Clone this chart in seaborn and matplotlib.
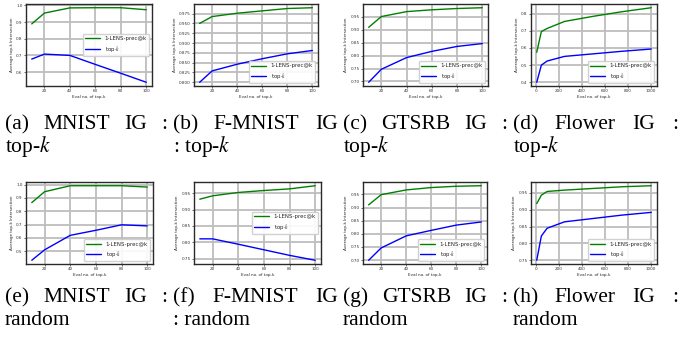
import matplotlib
matplotlib.use("Agg")
import matplotlib.pyplot as plt
from matplotlib.ticker import MultipleLocator
import pandas as pd
import seaborn as sns

# Evaluated top-k sizes
k_small = [10, 20, 40, 60, 80, 100]
k_large = [10, 50, 100, 250, 500, 750, 1000]

# Average top-k intersection, IG explanations vs. top-k attack
mnist_topk_lens = [0.889, 0.954, 0.985, 0.986, 0.986, 0.974]
mnist_topk_base = [0.678, 0.708, 0.700, 0.646, 0.593, 0.539]
fmnist_topk_lens = [0.950, 0.9675, 0.976, 0.982, 0.988, 0.990]
fmnist_topk_base = [0.800, 0.829, 0.846, 0.860, 0.8725, 0.881]
gtsrb_topk_lens = [0.9085, 0.950, 0.969, 0.976, 0.981, 0.984]
gtsrb_topk_base = [0.697, 0.747, 0.792, 0.816, 0.835, 0.846]
flower_topk_lens = [0.575, 0.696, 0.714, 0.755, 0.785, 0.812, 0.835]
flower_topk_base = [0.400, 0.500, 0.524, 0.551, 0.566, 0.581, 0.594]

# Average top-k intersection, IG explanations vs. random attack
mnist_random_lens = [0.865, 0.947, 0.992, 0.992, 0.992, 0.982]
mnist_random_base = [0.4315, 0.510, 0.619, 0.657, 0.698, 0.690]
fmnist_random_lens = [0.9315, 0.9418, 0.952, 0.958, 0.963, 0.9726]
fmnist_random_base = [0.8104, 0.8104, 0.794, 0.777, 0.760, 0.745]
gtsrb_random_lens = [0.910, 0.949, 0.967, 0.976, 0.981, 0.983]
gtsrb_random_base = [0.699, 0.746, 0.792, 0.813, 0.833, 0.845]
flower_random_lens = [0.918, 0.943, 0.954, 0.958, 0.963, 0.968, 0.971]
flower_random_base = [0.750, 0.822, 0.845, 0.864, 0.874, 0.884, 0.892]

series_names = ["1-LENS-prec@k", "top-$k$"]
x_label = "Eval no. of top-k"
y_label = "Average top-k Intersection"

captions = [
    (["(a)", "MNIST", "IG", ":"], "top-$k$"),
    (["(b)", "F-MNIST", "IG"], ": top-$k$"),
    (["(c)", "GTSRB", "IG", ":"], "top-$k$"),
    (["(d)", "Flower", "IG", ":"], "top-$k$"),
    (["(e)", "MNIST", "IG", ":"], "random"),
    (["(f)", "F-MNIST", "IG"], ": random"),
    (["(g)", "GTSRB", "IG", ":"], "random"),
    (["(h)", "Flower", "IG", ":"], "random"),
]

panels = [
    (k_small, mnist_topk_lens, mnist_topk_base),
    (k_small, fmnist_topk_lens, fmnist_topk_base),
    (k_small, gtsrb_topk_lens, gtsrb_topk_base),
    (k_large, flower_topk_lens, flower_topk_base),
    (k_small, mnist_random_lens, mnist_random_base),
    (k_small, fmnist_random_lens, fmnist_random_base),
    (k_small, gtsrb_random_lens, gtsrb_random_base),
    (k_large, flower_random_lens, flower_random_base),
]

W, H = 684, 347

# axes boxes in pixels: (left, top, right, bottom)
boxes = [
    (26, 4, 152, 86), (194, 4, 318, 86), (363, 4, 488, 86), (531, 4, 657, 86),
    (26, 182, 153, 264), (194, 182, 321, 264), (363, 182, 487, 264), (531, 182, 657, 264),
]
y_steps = [0.1, 0.025, 0.05, 0.1, 0.1, 0.05, 0.05, 0.05]
legend_locs = ["center right", "lower right", "lower right", "lower right",
               "lower right", "center right", "lower right", "lower right"]

sns.set_theme(style="whitegrid")
plt.rcParams.update({
    "font.family": ["DejaVu Sans"],
    "mathtext.fontset": "stix",
    "axes.facecolor": "white",
    "axes.edgecolor": "#2a2a2a",
    "axes.linewidth": 1.0,
    "grid.color": "#bdbdbd",
    "grid.linewidth": 1.3,
    "xtick.bottom": True,
    "ytick.left": True,
    "xtick.major.size": 1.5,
    "ytick.major.size": 1.5,
    "xtick.major.width": 0.5,
    "ytick.major.width": 0.5,
    "xtick.major.pad": 1.0,
    "ytick.major.pad": 1.0,
    "xtick.color": "#333333",
    "ytick.color": "#333333",
})

fig = plt.figure(figsize=(W / 100, H / 100), dpi=100)
palette = {series_names[0]: "green", series_names[1]: "blue"}

for i, ((ks, lens, base), box) in enumerate(zip(panels, boxes)):
    l, t, r, b = box
    ax = fig.add_axes([l / W, 1 - b / H, (r - l) / W, (b - t) / H])
    df = pd.DataFrame({
        "k": list(ks) * 2,
        "value": list(lens) + list(base),
        "series": [series_names[0]] * len(ks) + [series_names[1]] * len(ks),
    })
    sns.lineplot(data=df, x="k", y="value", hue="series", palette=palette,
                 hue_order=series_names, estimator=None, linewidth=1.0, ax=ax)
    ax.xaxis.set_major_locator(MultipleLocator(200 if ks[-1] > 100 else 20))
    ax.yaxis.set_major_locator(MultipleLocator(y_steps[i]))
    ax.tick_params(labelsize=3.0)
    ax.set_xlabel(x_label, fontsize=3.0, labelpad=1.0)
    ax.set_ylabel(y_label, fontsize=3.0, labelpad=1.5)
    handles, labels = ax.get_legend_handles_labels()
    ax.legend(handles, labels, loc=legend_locs[i], fontsize=4.0,
              handlelength=2.8, borderpad=0.4, labelspacing=0.45,
              handletextpad=0.8, frameon=True, framealpha=0.9,
              edgecolor="#cccccc", fancybox=True)
    for sp in ax.spines.values():
        sp.set_visible(True)

# Sub-figure captions, first line justified across the column
caption_font = dict(family="Liberation Serif", fontsize=15.5, color="black")
col_starts = [5, 173, 343, 513]
col_ends = [167, 338, 507, 678]
baselines = [(129, 152), (302, 325)]

line_words = []
for idx, (words, second) in enumerate(captions):
    row, col = divmod(idx, 4)
    y1, y2 = baselines[row]
    txts = [fig.text(0, 1 - y1 / H, w, va="baseline", ha="left", **caption_font)
            for w in words]
    line_words.append((txts, col_starts[col], col_ends[col]))
    fig.text(col_starts[col] / W, 1 - y2 / H, second, va="baseline", ha="left",
             **caption_font)

fig.canvas.draw()
renderer = fig.canvas.get_renderer()
for txts, x0, x1 in line_words:
    widths = [t.get_window_extent(renderer).width for t in txts]
    gap = (x1 - x0 - sum(widths)) / max(len(txts) - 1, 1)
    x = x0
    for t, w in zip(txts, widths):
        t.set_x(x / W)
        x += w + gap

fig.savefig("out.png", dpi=100)
